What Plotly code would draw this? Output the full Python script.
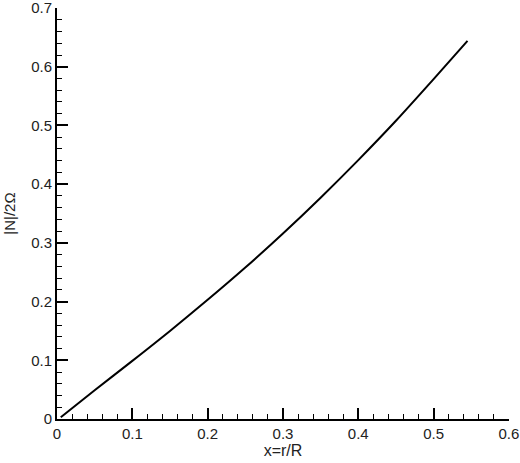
import plotly.graph_objects as go

# values
x_r = [0.005, 0.05, 0.1, 0.15, 0.2, 0.25, 0.3, 0.35, 0.4, 0.45, 0.5, 0.545]
n_over_2omega = [0.003, 0.049, 0.099, 0.150, 0.203, 0.258, 0.316, 0.377, 0.441, 0.508, 0.579, 0.644]

x_ticks = [0, 0.1, 0.2, 0.3, 0.4, 0.5, 0.6]
y_ticks = [0, 0.1, 0.2, 0.3, 0.4, 0.5, 0.6, 0.7]

font_name = 'Liberation Sans, Arial'

fig = go.Figure()
fig.add_trace(go.Scatter(x=x_r, y=n_over_2omega, mode='lines',
                         line=dict(color='black', width=2, shape='spline', smoothing=0.8),
                         showlegend=False))

axis_common = dict(
    showgrid=False, zeroline=False,
    showline=True, linecolor='black', linewidth=2,
    ticks='inside', ticklen=11, tickwidth=2, tickcolor='black',
    tickfont=dict(family=font_name, size=15, color='#222'),
    ticklabeloverflow='allow',
    minor=dict(ticks='inside', ticklen=5, tickwidth=1, tickcolor='black'),
)

fig.update_xaxes(range=[0, 0.6001], tickvals=x_ticks, ticktext=[f'{v:g}' for v in x_ticks],
                 title=dict(text='x=r/R', standoff=2,
                            font=dict(family=font_name, size=16, color='#222')),
                 minor_dtick=0.02, **axis_common)
fig.update_yaxes(range=[0, 0.7001], tickvals=y_ticks, ticktext=[f'{v:g}' for v in y_ticks],
                 title=dict(text='|N|/2Ω', standoff=12,
                            font=dict(family=font_name, size=15, color='#222')),
                 minor_dtick=0.02, **axis_common)

fig.update_layout(
    width=520, height=463,
    margin=dict(l=57, r=11, t=8, b=44, autoexpand=False),
    plot_bgcolor='white', paper_bgcolor='white',
)

# the page's default body margin would shift the figure, so drop it
fig.write_html("out.html", config={'displayModeBar': False},
               post_script="document.body.style.margin='0';")
